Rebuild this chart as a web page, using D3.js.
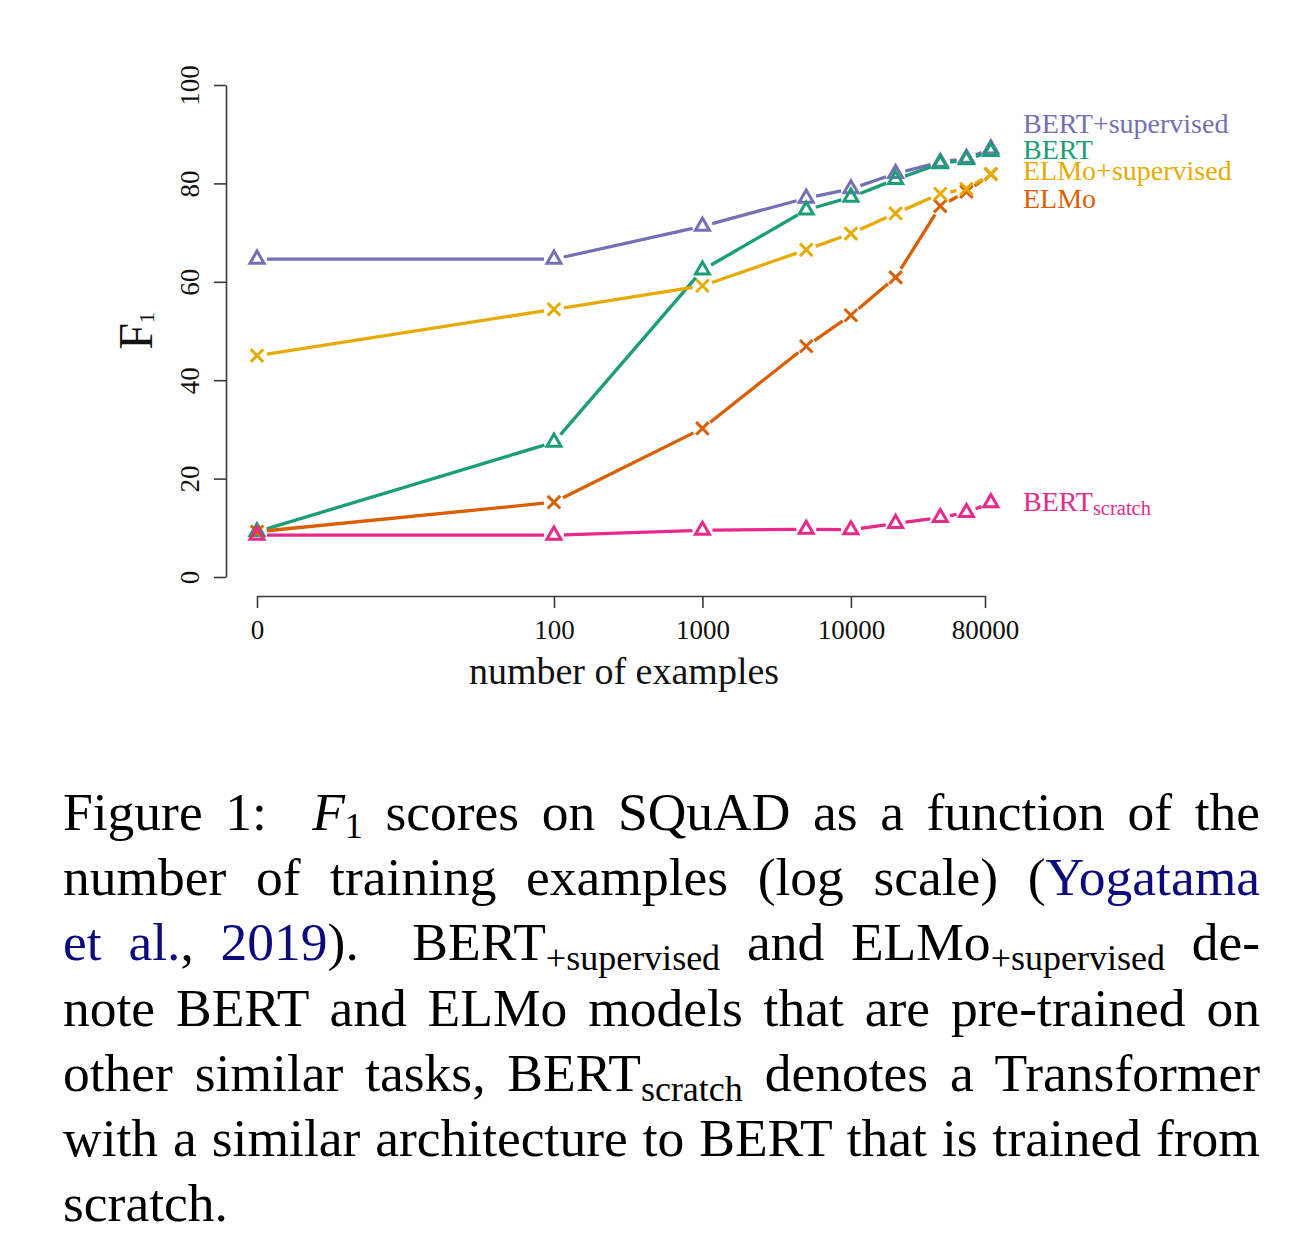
<!DOCTYPE html>
<html>
<head>
<meta charset="utf-8">
<script src="https://cdn.jsdelivr.net/npm/d3@7"></script>
<style>
  body { margin: 0; background: #fff; width: 1294px; height: 1244px; overflow: hidden; position: relative;
         font-family: "Liberation Serif", "Times New Roman", serif; }
  #chart { position: absolute; left: 0; top: 0; }
  #caption { position: absolute; left: 63px; top: 780px; width: 1197px; font-size: 53.5px; line-height: 65.2px; color: #000; }
  #caption div { white-space: nowrap; text-align: justify; text-align-last: justify; }
  #caption div.last { text-align-last: left; }
  .sub { font-size: 36px; position: relative; top: 10px; line-height: 0; }
  .cite { color: #0b0b7e; }
</style>
</head>
<body>
<svg id="chart" width="1294" height="740"></svg>
<div id="caption">
  <div>Figure 1: &nbsp;<i>F</i><span class="sub" style="top:8px">1</span> scores on SQuAD as a function of the</div>
  <div>number of training examples (log scale) (<span class="cite">Yogatama</span></div>
  <div><span class="cite">et al.</span>, <span class="cite">2019</span>). &nbsp;BERT<span class="sub">+supervised</span> and ELMo<span class="sub">+supervised</span> de-</div>
  <div>note BERT and ELMo models that are pre-trained on</div>
  <div>other similar tasks, BERT<span class="sub">scratch</span> denotes a Transformer</div>
  <div>with a similar architecture to BERT that is trained from</div>
  <div class="last">scratch.</div>
</div>
<script>
// number of training examples (0 is drawn at the 10^0 position of the log axis)
const examples = [0, 100, 1000, 5000, 10000, 20000, 40000, 60000, 87599];
const xTicks = [0, 100, 1000, 10000, 80000];
const yTicks = [0, 20, 40, 60, 80, 100];

// F1 scores
const bertSupervised = [64.6, 64.6, 71.3, 77.0, 78.9, 82.0, 84.3, 85.1, 87.0];
const bert           = [9.2, 27.4, 62.4, 74.6, 77.2, 80.8, 84.0, 84.8, 86.5];
const elmoSupervised = [45.0, 54.4, 59.2, 66.5, 69.8, 73.9, 77.9, 78.9, 81.9];
const elmo           = [9.2, 15.2, 30.2, 46.9, 53.2, 60.9, 75.4, 78.3, 81.9];
const bertScratch    = [8.5, 8.5, 9.5, 9.7, 9.6, 10.9, 12.1, 13.1, 15.1];

// label anchors on the right (F1 units)
const labelNames  = ["BERT+supervised", "BERT", "ELMo+supervised", "ELMo", "BERT"];
const labelValues = [92.2, 86.8, 82.6, 77.0, 15.4];

const series = [
    { name: "BERT+supervised", values: bertSupervised, color: "#7570b3", marker: "tri" },
    { name: "BERT", values: bert, color: "#1b9e77", marker: "tri" },
    { name: "ELMo", values: elmo, color: "#d95f02", marker: "x" },
    { name: "ELMo+supervised", values: elmoSupervised, color: "#e6ab02", marker: "x" },
    { name: "BERT_scratch", values: bertScratch, color: "#e7298a", marker: "tri" }
];
const labelColors = ["#7570b3", "#1b9e77", "#e6ab02", "#d95f02", "#e7298a"];

const svg = d3.select("#chart");

const x = d3.scaleLog().domain([1, 80000]).range([257, 985]);
const y = d3.scaleLinear().domain([0, 100]).range([577, 85]);
const xv = v => x(Math.max(v, 1));

const axisX = 596, axisY = 226;

// y axis
const gy = svg.append("g")
    .attr("transform", `translate(${axisY},0)`)
    .call(d3.axisLeft(y).tickValues(yTicks).tickSize(12).tickSizeOuter(0));
gy.selectAll("path, line").attr("stroke", "#3a3a3a").attr("stroke-width", 1.6);
gy.selectAll("text")
    .attr("transform", "rotate(-90)")
    .attr("x", 0).attr("y", -27).attr("dy", 0)
    .attr("text-anchor", "middle")
    .style("font-family", "Liberation Serif, serif")
    .style("font-size", "27px")
    .attr("fill", "#111");

// x axis
const gx = svg.append("g")
    .attr("transform", `translate(0,${axisX})`)
    .call(d3.axisBottom(d3.scaleLog().domain([1, 80000]).range(x.range()))
        .tickValues(xTicks.map(t => Math.max(t, 1)))
        .tickFormat((d, i) => xTicks[i])
        .tickSize(12).tickSizeOuter(0));
gx.selectAll("path, line").attr("stroke", "#3a3a3a").attr("stroke-width", 1.6);
gx.selectAll("text")
    .attr("y", 43).attr("dy", 0)
    .style("font-family", "Liberation Serif, serif")
    .style("font-size", "27px")
    .attr("fill", "#111");

// axis titles
svg.append("text")
    .attr("x", 624).attr("y", 684)
    .attr("text-anchor", "middle")
    .style("font-family", "Liberation Serif, serif")
    .style("font-size", "38px")
    .attr("fill", "#111")
    .text("number of examples");

const yTitle = svg.append("text")
    .attr("transform", `translate(152,${(y(0) + y(100)) / 2}) rotate(-90)`)
    .attr("text-anchor", "middle")
    .style("font-family", "Liberation Serif, serif")
    .style("font-size", "48px")
    .attr("fill", "#111");
yTitle.append("tspan").text("F");
yTitle.append("tspan").attr("dy", 2).style("font-size", "22px").text("1");

// lines drawn R "type b" style: segments stop short of each point
const gap = 10;
series.forEach(s => {
    const pts = examples.map((e, i) => [xv(e), y(s.values[i])]);
    const segs = d3.pairs(pts).map(([a, b]) => {
        const dx = b[0] - a[0], dy = b[1] - a[1];
        const len = Math.hypot(dx, dy);
        if (len <= 2 * gap) return null;
        const ux = dx / len, uy = dy / len;
        return [a[0] + ux * gap, a[1] + uy * gap, b[0] - ux * gap, b[1] - uy * gap];
    }).filter(d => d);

    const g = svg.append("g");
    g.selectAll("line")
        .data(segs)
        .enter()
        .append("line")
        .attr("x1", d => d[0]).attr("y1", d => d[1])
        .attr("x2", d => d[2]).attr("y2", d => d[3])
        .attr("stroke", s.color)
        .attr("stroke-width", 3.3)
        .attr("stroke-linecap", "butt");

    const sym = s.marker === "tri"
        ? d3.symbol().type(d3.symbolTriangle).size(85)
        : d3.symbol().type(d3.symbolX).size(105);
    g.selectAll("path")
        .data(pts)
        .enter()
        .append("path")
        .attr("transform", d => `translate(${d[0]},${d[1]})`)
        .attr("d", sym)
        .attr("fill", "none")
        .attr("stroke", s.color)
        .attr("stroke-width", 3);
});

// labels at the right
labelNames.forEach((name, i) => {
    const t = svg.append("text")
        .attr("x", 1023)
        .attr("y", y(labelValues[i]) + 9.5)
        .style("font-family", "Liberation Serif, serif")
        .style("font-size", "28px")
        .attr("fill", labelColors[i]);
    t.append("tspan").text(name);
    if (i === 4) t.append("tspan").attr("dy", 4).style("font-size", "20.5px").text("scratch");
});
</script>
</body>
</html>
